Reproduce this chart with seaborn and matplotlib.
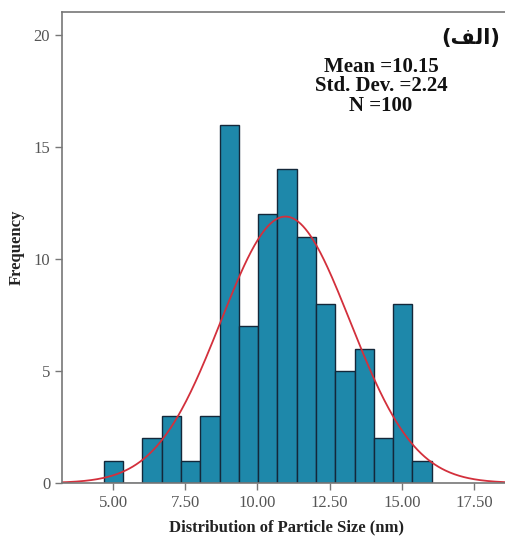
import numpy as np
import pandas as pd
import seaborn as sns
import matplotlib
matplotlib.use("Agg")
import matplotlib.pyplot as plt

# ---- data ----
bin_start = 4.68
bin_width = 0.668
counts = [1, 0, 2, 3, 1, 3, 16, 7, 12, 14, 11, 8, 5, 6, 2, 8, 1]
curve_mean = 10.97
curve_sd = 2.24
n_total = 100
x_ticks = [5.0, 7.5, 10.0, 12.5, 15.0, 17.5]
x_tick_labels = ["5.00", "7.50", "10.00", "12.50", "15.00", "17.50"]
y_ticks = [0, 5, 10, 15, 20]
stats_text = "Mean =10.15\nStd. Dev. =2.24\nN =100"
title_text = "(\uFED2\uFEDF\uFE8D)"  # (الف) in visual order
x_label = "Distribution of Particle Size (nm)"
y_label = "Frequency"

edges = [bin_start + bin_width * i for i in range(len(counts) + 1)]
centers = [(edges[i] + edges[i + 1]) / 2 for i in range(len(counts))]
df = pd.DataFrame({"size": centers, "count": counts})

sns.set_style("white")
plt.rcParams["font.family"] = ["Liberation Serif", "DejaVu Serif"]

fig = plt.figure(figsize=(5.05, 5.41), dpi=100)
ax = fig.add_axes([62 / 505, 1 - 483 / 541, 1.01 - 62 / 505, (483 - 12) / 541])

sns.histplot(data=df, x="size", weights="count", bins=edges, ax=ax,
             color="#1E88AA", alpha=1.0, edgecolor="#14283A", linewidth=1.0)

xs = np.linspace(3.0, 19.0, 400)
ys = n_total * bin_width / (curve_sd * np.sqrt(2 * np.pi)) * np.exp(-0.5 * ((xs - curve_mean) / curve_sd) ** 2)
sns.lineplot(x=xs, y=ys, ax=ax, color="#D3303C", linewidth=1.3)

ax.set_xlim(3.23, 18.75)
ax.set_ylim(0, 21.03)
ax.set_xticks(x_ticks)
ax.set_xticklabels(x_tick_labels)
ax.set_yticks(y_ticks)
ax.tick_params(axis="both", direction="out", length=5, width=1.0, color="#777777",
               labelcolor="#555555", labelsize=12, left=True, bottom=True)
for s in ax.spines.values():
    s.set_color("#777777")
    s.set_linewidth(1.2)

ax.set_xlabel(x_label, fontsize=12, fontweight="bold", color="#222222", labelpad=6)
ax.set_ylabel(y_label, fontsize=12, fontweight="bold", color="#222222", labelpad=6)

ax.text(0.978, 0.965, title_text, transform=ax.transAxes, ha="right", va="top",
        fontsize=15, fontweight="bold", family=["DejaVu Sans"], color="#111111")
ax.text(0.712, 0.905, stats_text, transform=ax.transAxes, ha="center", va="top",
        fontsize=15, fontweight="bold", color="#111111", linespacing=0.97)

fig.savefig("out.png", dpi=100)
